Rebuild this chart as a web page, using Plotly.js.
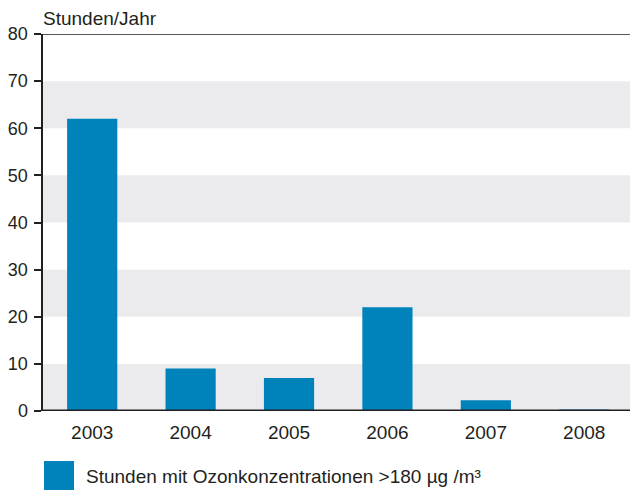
<!DOCTYPE html>
<html><head><meta charset="utf-8">
<script src="https://cdn.plot.ly/plotly-3.0.1.min.js"></script>
<style>body{margin:0;padding:0;background:#fff}#chart{width:630px;height:490px}</style>
</head><body><div id="chart"></div>
<script>
const years = ['2003','2004','2005','2006','2007','2008'];
const hours = [62, 9, 7, 22, 2.3, 0.3];
const yTicks = [0,10,20,30,40,50,60,70,80];
const bandStarts = [0,20,40,60];
const seriesName = 'Stunden mit Ozonkonzentrationen >180 µg /m³';
const yTitle = 'Stunden/Jahr';

const barColor = '#0082BA';
const textColor = '#231f20';
const font = 'Liberation Sans, Arial, sans-serif';

const shapes = bandStarts.map(s => ({
  type:'rect', xref:'paper', yref:'y', x0:0, x1:1, y0:s, y1:s+10,
  fillcolor:'#EBEBED', line:{width:0}, layer:'below'
}));
shapes.push({type:'line', xref:'paper', yref:'y', x0:0, x1:1, y0:80, y1:80,
  line:{color:textColor, width:1.5}});
shapes.push({type:'rect', xref:'paper', yref:'paper', x0:0.0017, x1:0.0528, y0:-0.212, y1:-0.1326,
  fillcolor:barColor, line:{width:0}});

const data = [{
  type:'bar', x:years, y:hours, name:seriesName,
  marker:{color:barColor}, width:0.51, showlegend:false
}];

const layout = {
  width:630, height:490,
  margin:{l:43, r:0, t:34, b:79},
  paper_bgcolor:'#fff', plot_bgcolor:'#fff',
  font:{family:font, color:textColor},
  xaxis:{type:'category', range:[-0.5,5.465], showgrid:false, zeroline:false, showline:false,
    ticks:'', tickfont:{size:19, color:textColor}, ticklabelstandoff:8, fixedrange:true},
  yaxis:{range:[0,80], tickvals:yTicks, showgrid:false, zeroline:false,
    showline:true, linecolor:textColor, linewidth:2.5,
    ticks:'outside', ticklen:7, tickwidth:2, tickcolor:textColor,
    tickfont:{size:18, color:textColor}, ticklabelstandoff:2},
  shapes: shapes,
  annotations:[
    {xref:'paper', yref:'paper', x:-0.003, y:1.0398, xanchor:'left', yanchor:'middle',
     text:yTitle, showarrow:false, font:{size:19, color:textColor}},
    {xref:'paper', yref:'paper', x:0.07, y:-0.1737, xanchor:'left', yanchor:'middle',
     text:seriesName, showarrow:false, font:{size:19, color:textColor}}
  ]
};
layout.shapes.push({type:'line', xref:'paper', yref:'y', x0:0, x1:1, y0:0, y1:0,
  line:{color:textColor, width:3}});

Plotly.newPlot('chart', data, layout, {displayModeBar:false, staticPlot:true});
</script></body></html>
